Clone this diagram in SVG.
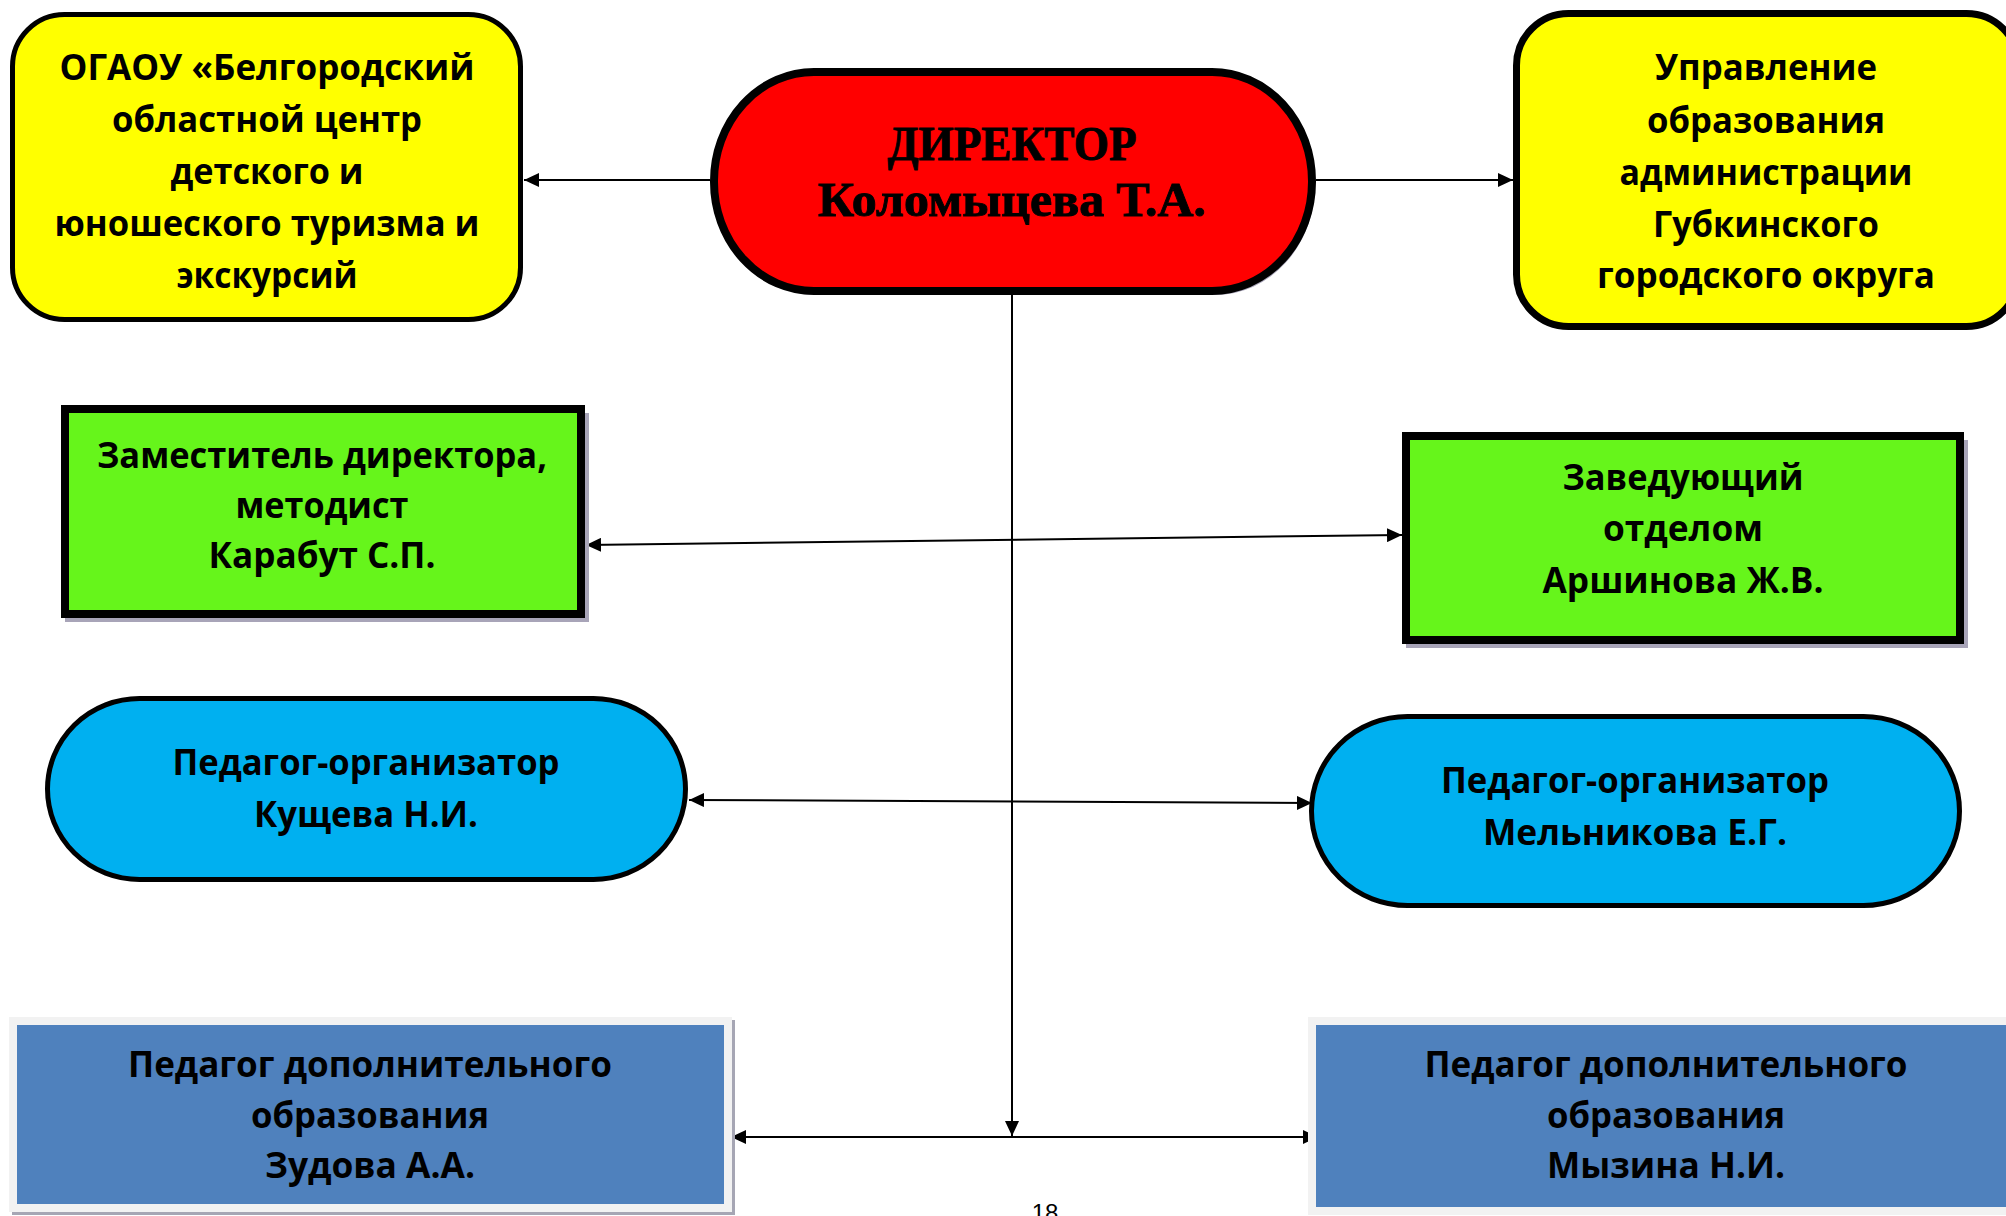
<svg xmlns="http://www.w3.org/2000/svg" width="2006" height="1216" viewBox="0 0 2006 1216">
<defs>
<style>
.t{font-family:"Open Sans","Noto Sans","Liberation Sans",sans-serif;font-weight:bold;font-size:35px;fill:#000;text-anchor:middle}
.d{font-family:"Liberation Serif","DejaVu Serif",serif;font-weight:bold;font-size:48px;fill:#000;stroke:#000;stroke-width:0.9;text-anchor:middle}
.pg{font-family:"Liberation Sans",Arial,sans-serif;font-size:24px;fill:#000;text-anchor:middle}
.c{stroke:#000;stroke-width:2;fill:none}
.sh{fill:#a8a4b8}
</style>
<marker id="ah" markerUnits="userSpaceOnUse" markerWidth="16" markerHeight="14" refX="15" refY="7" orient="auto-start-reverse">
<path d="M0,0 L15,7 L0,14 Z" fill="#000"/>
</marker>
</defs>
<rect width="2006" height="1216" fill="#fff"/>

<g id="connectors">
<line class="c" x1="710" y1="180" x2="524" y2="180" marker-end="url(#ah)"/>
<line class="c" x1="1316" y1="180" x2="1513" y2="180" marker-end="url(#ah)"/>
<line class="c" x1="1012" y1="295" x2="1012" y2="1136" marker-end="url(#ah)"/>
<line class="c" x1="731" y1="1137" x2="1318" y2="1137" marker-start="url(#ah)" marker-end="url(#ah)"/>
<line class="c" x1="586" y1="545" x2="1402" y2="535" marker-start="url(#ah)" marker-end="url(#ah)"/>
<line class="c" x1="689" y1="800" x2="1312" y2="803" marker-start="url(#ah)" marker-end="url(#ah)"/>
</g>

<g id="n_ogaou">
<rect x="12.5" y="14.5" width="508" height="305" rx="52" fill="#ffff00" stroke="#000" stroke-width="5"/>
<text class="t" x="267" y="80" textLength="415" lengthAdjust="spacingAndGlyphs">ОГАОУ «Белгородский</text>
<text class="t" x="267" y="132" textLength="310" lengthAdjust="spacingAndGlyphs">областной центр</text>
<text class="t" x="267" y="184" textLength="193" lengthAdjust="spacingAndGlyphs">детского и</text>
<text class="t" x="267" y="236" textLength="425" lengthAdjust="spacingAndGlyphs">юношеского туризма и</text>
<text class="t" x="267" y="288" textLength="181" lengthAdjust="spacingAndGlyphs">экскурсий</text>
</g>

<g id="n_director">
<rect class="sh" x="717" y="75" width="598" height="220" rx="100" ry="110"/>
<rect x="714" y="72" width="598" height="219" rx="100" ry="109" fill="#ff0000" stroke="#000" stroke-width="8"/>
<text class="d" x="1012" y="160" textLength="249" lengthAdjust="spacingAndGlyphs">ДИРЕКТОР</text>
<text class="d" x="1012" y="216" textLength="388" lengthAdjust="spacingAndGlyphs">Коломыцева Т.А.</text>
</g>

<g id="n_uprav">
<rect x="1516.5" y="13.5" width="502" height="313" rx="52" fill="#ffff00" stroke="#000" stroke-width="7"/>
<text class="t" x="1766" y="80" textLength="222" lengthAdjust="spacingAndGlyphs">Управление</text>
<text class="t" x="1766" y="133" textLength="238" lengthAdjust="spacingAndGlyphs">образования</text>
<text class="t" x="1766" y="185" textLength="293" lengthAdjust="spacingAndGlyphs">администрации</text>
<text class="t" x="1766" y="237" textLength="226" lengthAdjust="spacingAndGlyphs">Губкинского</text>
<text class="t" x="1766" y="288" textLength="338" lengthAdjust="spacingAndGlyphs">городского округа</text>
</g>

<g id="n_zam">
<rect class="sh" x="65" y="413" width="524" height="209"/>
<rect x="65" y="409" width="516" height="205" fill="#66f51b" stroke="#000" stroke-width="8"/>
<text class="t" x="322" y="468" textLength="450" lengthAdjust="spacingAndGlyphs">Заместитель директора,</text>
<text class="t" x="322" y="518" textLength="173" lengthAdjust="spacingAndGlyphs">методист</text>
<text class="t" x="322" y="568" textLength="227" lengthAdjust="spacingAndGlyphs">Карабут С.П.</text>
</g>

<g id="n_zav">
<rect class="sh" x="1406" y="440" width="562" height="208"/>
<rect x="1406" y="436" width="554" height="204" fill="#66f51b" stroke="#000" stroke-width="8"/>
<text class="t" x="1683" y="490" textLength="241" lengthAdjust="spacingAndGlyphs">Заведующий</text>
<text class="t" x="1683" y="541" textLength="160" lengthAdjust="spacingAndGlyphs">отделом</text>
<text class="t" x="1683" y="593" textLength="281" lengthAdjust="spacingAndGlyphs">Аршинова Ж.В.</text>
</g>

<g id="n_kushcheva">
<rect x="47.5" y="698.5" width="638" height="181" rx="92" ry="90.5" fill="#00b0f0" stroke="#000" stroke-width="5"/>
<text class="t" x="366" y="775" textLength="387" lengthAdjust="spacingAndGlyphs">Педагог-организатор</text>
<text class="t" x="366" y="827" textLength="224" lengthAdjust="spacingAndGlyphs">Кущева Н.И.</text>
</g>

<g id="n_melnikova">
<rect x="1311.5" y="716.5" width="648" height="189" rx="96" ry="94.5" fill="#00b0f0" stroke="#000" stroke-width="5"/>
<text class="t" x="1635" y="793" textLength="388" lengthAdjust="spacingAndGlyphs">Педагог-организатор</text>
<text class="t" x="1635" y="845" textLength="304" lengthAdjust="spacingAndGlyphs">Мельникова Е.Г.</text>
</g>

<g id="n_zudova">
<rect x="12" y="1020" width="723" height="195" fill="#a6a6b4"/>
<rect x="13" y="1021" width="715" height="187" fill="#4f81bd" stroke="#f2f2f2" stroke-width="8"/>
<text class="t" x="370" y="1077" textLength="484" lengthAdjust="spacingAndGlyphs">Педагог дополнительного</text>
<text class="t" x="370" y="1128" textLength="238" lengthAdjust="spacingAndGlyphs">образования</text>
<text class="t" x="370" y="1178" textLength="210" lengthAdjust="spacingAndGlyphs">Зудова А.А.</text>
</g>

<g id="n_myzina">
<rect x="1312" y="1021" width="710" height="190" fill="#4f81bd" stroke="#f2f2f2" stroke-width="8"/>
<text class="t" x="1666" y="1077" textLength="483" lengthAdjust="spacingAndGlyphs">Педагог дополнительного</text>
<text class="t" x="1666" y="1128" textLength="238" lengthAdjust="spacingAndGlyphs">образования</text>
<text class="t" x="1666" y="1178" textLength="238" lengthAdjust="spacingAndGlyphs">Мызина Н.И.</text>
</g>

<text class="pg" x="1045" y="1221">18</text>
</svg>
